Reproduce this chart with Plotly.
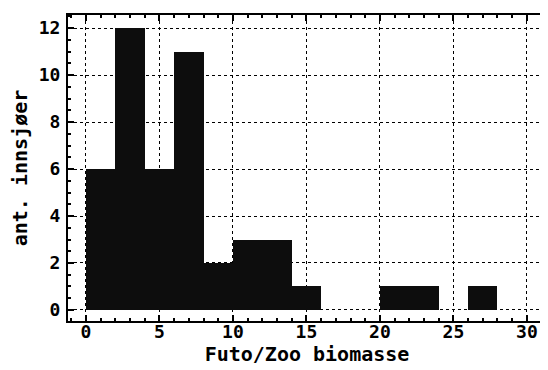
import plotly.graph_objects as go

bin_left = [0, 2, 4, 6, 8, 10, 12, 14, 16, 18, 20, 22, 24, 26, 28]
counts = [6, 12, 6, 11, 2, 3, 3, 1, 0, 0, 1, 1, 0, 1, 0]
bin_width = 2
x_title = "Futo/Zoo biomasse"
y_title = "ant. innsjøer"

centers = [b + bin_width / 2 for b in bin_left]

FONT = "DejaVu Sans Mono"

fig = go.Figure()
fig.add_trace(go.Bar(
    x=centers, y=counts, width=[bin_width] * len(counts),
    marker=dict(color="#0d0d0d", line=dict(width=0)),
    showlegend=False,
))

axis_common = dict(
    showline=True, linecolor="black", linewidth=2, mirror="allticks",
    ticks="inside", tickcolor="black", tickwidth=1.5, ticklen=6,
    showgrid=True, gridcolor="black", griddash="dot", gridwidth=1,
    zeroline=False, automargin=False,
    tickfont=dict(family=FONT, size=18, color="black", weight="bold"),
)

fig.update_xaxes(
    range=[-1.22, 31.3], tick0=0, dtick=5,
    minor=dict(tick0=0, dtick=1, ticks="inside", ticklen=3, tickcolor="black", showgrid=False),
    title=dict(text=x_title, font=dict(family=FONT, size=20, color="black", weight="bold"), standoff=4),
    ticklabelstandoff=-7,
    **axis_common,
)
fig.update_yaxes(
    range=[-0.47, 12.56], tick0=0, dtick=2,
    minor=dict(tick0=0, dtick=0.5, ticks="inside", ticklen=3, tickcolor="black", showgrid=False),
    title=dict(text=y_title, font=dict(family=FONT, size=20, color="black", weight="bold"), standoff=12),
    ticklabelstandoff=2,
    **axis_common,
)

# page has an 8px body margin, so the figure is sized to fit the 548x370 window
fig.update_layout(
    width=540, height=362,
    margin=dict(l=60, r=2, t=7, b=49),
    paper_bgcolor="white", plot_bgcolor="white",
    bargap=0,
)

fig.write_html("out.html")
